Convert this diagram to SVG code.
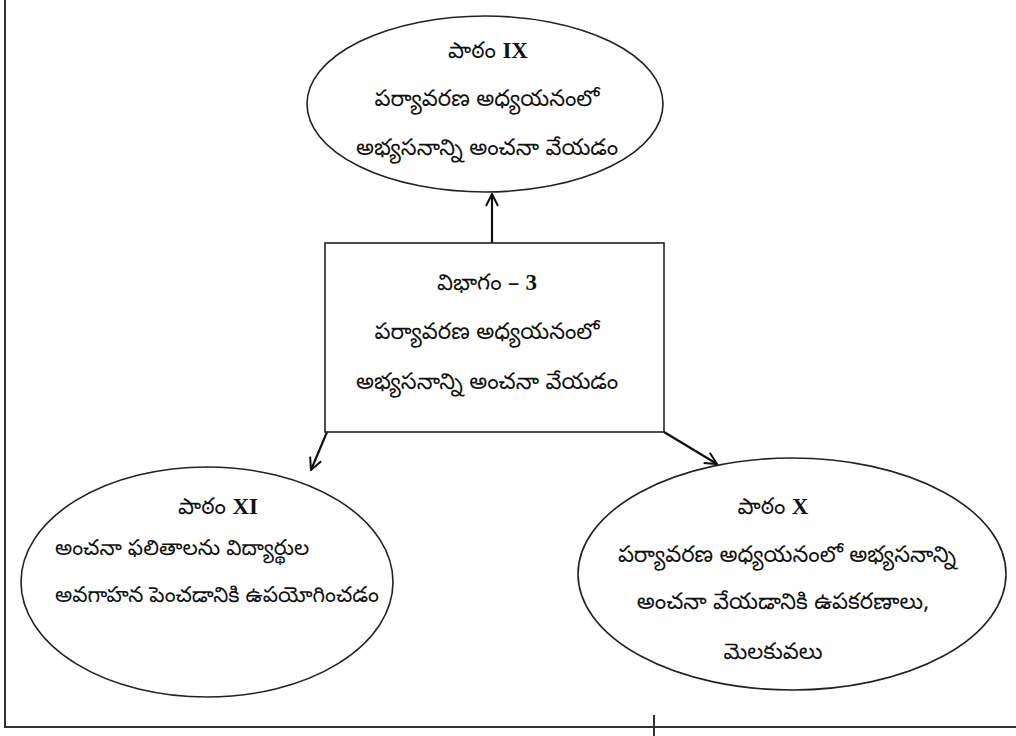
<svg xmlns="http://www.w3.org/2000/svg" width="1016" height="736" viewBox="0 0 1016 736">
<defs>
<style>
.shape{fill:#fff;stroke:#222;stroke-width:1.6}
.frame{fill:none;stroke:#333;stroke-width:2}
.conn{fill:none;stroke:#111;stroke-width:2.2}
text{font-family:"Noto Sans Telugu","Liberation Serif","Noto Sans",serif;font-size:22.5px;fill:#111}
.c{text-anchor:middle}
.s{font-size:21.5px}
.b{font-family:"Liberation Serif",serif;font-weight:bold;font-size:23px}
</style>
<marker id="arr" viewBox="0 0 14 14" refX="13" refY="7" markerWidth="14" markerHeight="14" markerUnits="userSpaceOnUse" orient="auto">
<path d="M1,1 L13,7 L1,13" fill="none" stroke="#111" stroke-width="2"/>
</marker>
</defs>
<rect width="1016" height="736" fill="#fff"/>
<g id="frame">
<line class="frame" x1="5" y1="0" x2="5" y2="727"/>
<line class="frame" x1="4" y1="727" x2="1016" y2="727"/>
<line class="frame" x1="654" y1="715" x2="654" y2="736"/>
</g>
<g id="connectors">
<line class="conn" x1="492" y1="243" x2="492" y2="194" marker-end="url(#arr)"/>
<line class="conn" x1="327" y1="432" x2="311" y2="470" marker-end="url(#arr)"/>
<line class="conn" x1="664" y1="432" x2="717" y2="464" marker-end="url(#arr)"/>
</g>
<g id="node-ix">
<ellipse class="shape" cx="485" cy="104" rx="178" ry="88"/>
<text class="c" x="488" y="58">పాఠం <tspan class="b">IX</tspan></text>
<text class="c" x="487" y="106">పర్యావరణ అధ్యయనంలో</text>
<text class="c" x="487" y="155">అభ్యసనాన్ని అంచనా వేయడం</text>
</g>
<g id="node-center">
<rect class="shape" x="325" y="243" width="339" height="189"/>
<text class="c" x="487" y="290">విభాగం – <tspan class="b">3</tspan></text>
<text class="c" x="487" y="339">పర్యావరణ అధ్యయనంలో</text>
<text class="c" x="487" y="389">అభ్యసనాన్ని అంచనా వేయడం</text>
</g>
<g id="node-xi">
<ellipse class="shape" cx="207" cy="582" rx="186" ry="115"/>
<text class="c" x="218" y="514">పాఠం <tspan class="b">XI</tspan></text>
<text class="s" x="55" y="555">అంచనా  ఫలితాలను విద్యార్థుల</text>
<text class="s" x="55" y="602">అవగాహన పెంచడానికి ఉపయోగించడం</text>
</g>
<g id="node-x">
<ellipse class="shape" cx="792" cy="574" rx="214" ry="116"/>
<text class="c" x="773" y="514">పాఠం <tspan class="b">X</tspan></text>
<text class="c" x="787" y="562">పర్యావరణ అధ్యయనంలో అభ్యసనాన్ని</text>
<text class="c" x="783" y="609">అంచనా వేయడానికి ఉపకరణాలు,</text>
<text class="c" x="773" y="659">మెలకువలు</text>
</g>
</svg>
